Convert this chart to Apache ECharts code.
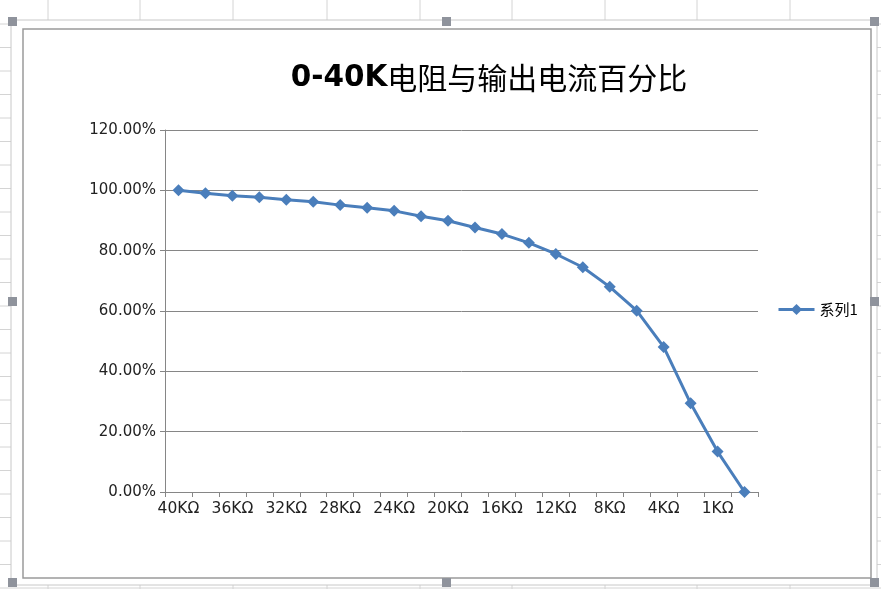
<!DOCTYPE html>
<html>
<head>
<meta charset="utf-8">
<script src="https://cdn.jsdelivr.net/npm/echarts@6/dist/echarts.min.js"></script>
<style>
html,body{margin:0;padding:0;background:#fff;}
#c{width:881px;height:589px;}
</style>
</head>
<body>
<div id="c"></div>
<script>
const titleText = '0-40K电阻与输出电流百分比';
const seriesName = '系列1';
const categories = ['40KΩ','38KΩ','36KΩ','34KΩ','32KΩ','30KΩ','28KΩ','26KΩ','24KΩ','22KΩ','20KΩ','18KΩ','16KΩ','14KΩ','12KΩ','10KΩ','8KΩ','6KΩ','4KΩ','2KΩ','1KΩ','0KΩ'];
const values = [100, 99.0, 98.2, 97.7, 96.9, 96.2, 95.1, 94.2, 93.2, 91.4, 89.9, 87.7, 85.5, 82.6, 78.9, 74.5, 68.0, 60.1, 48.1, 29.4, 13.4, 0];
const yTicks = {min: 0, max: 120, interval: 20};

const W = 881, H = 589;
const gridColor = '#d4d4d4';
const bg = [];
// spreadsheet cell gridlines (decoration)
const vx = [48, 140, 233, 327, 420, 512, 605, 697, 790];
vx.forEach(x => bg.push({type:'line', shape:{x1:x,y1:0,x2:x,y2:H}, style:{stroke:gridColor,lineWidth:1}, silent:true, z:-10}));
for (let y = 24; y < H; y += 23.5) {
  bg.push({type:'line', shape:{x1:0,y1:y,x2:W,y2:y}, style:{stroke:gridColor,lineWidth:1}, silent:true, z:-10});
}
// chart frame
bg.push({type:'rect', shape:{x:11,y:20,width:866,height:565}, style:{fill:'#fff',stroke:'#c8c8c8',lineWidth:1}, silent:true, z:-9});
bg.push({type:'rect', shape:{x:23,y:29,width:848,height:549}, style:{fill:'#fff',stroke:'#9a9a9a',lineWidth:1.5}, silent:true, z:-8});
// handles
[[8,17],[442,17],[870,17],[8,578],[442,578],[870,578],[8,297],[870,297]].forEach(p => {
  bg.push({type:'rect', shape:{x:p[0],y:p[1],width:9,height:9}, style:{fill:'#8f939c'}, silent:true, z:-7});
});

const chart = echarts.init(document.getElementById('c'), null, {renderer:'canvas'});
chart.setOption({
  animation: false,
  backgroundColor: '#fff',
  graphic: bg,
  title: {
    text: '{b|0-40K}{n|电阻与输出电流百分比}',
    left: 484, top: 58, textAlign: 'center',
    textStyle: {
      rich: {
        b: {fontFamily:'DejaVu Sans', fontWeight:'bold', fontSize:29.5, color:'#000'},
        n: {fontFamily:'Noto Sans CJK SC', fontWeight:'normal', fontSize:30, color:'#000'}
      }
    }
  },
  legend: {
    data: [seriesName],
    left: 772, top: 297, orient: 'vertical',
    itemWidth: 36, itemHeight: 14, itemGap: 6,
    lineStyle: {width: 3},
    textStyle: {fontFamily:'Noto Sans CJK SC', fontSize:15, color:'#000'}
  },
  grid: {left: 165, right: 123, top: 130, bottom: 97, containLabel: false},
  xAxis: {
    type: 'category',
    data: categories,
    boundaryGap: true,
    axisLine: {lineStyle: {color: '#868686', width: 1}},
    axisTick: {show: true, alignWithLabel: false, interval: 0, length: 5, lineStyle:{color:'#868686'}},
    axisLabel: {interval: 1, color: '#222', fontFamily: 'DejaVu Sans, sans-serif', fontSize: 15.5, margin: 9},
    splitLine: {show: false}
  },
  yAxis: {
    type: 'value',
    min: yTicks.min, max: yTicks.max, interval: yTicks.interval,
    axisLine: {show: true, lineStyle: {color: '#868686', width: 1}},
    axisTick: {show: true, length: 5, lineStyle:{color:'#868686'}},
    axisLabel: {formatter: v => v.toFixed(2) + '%', color: '#222', fontFamily: 'DejaVu Sans, sans-serif', fontSize: 15, margin: 9},
    splitLine: {show: true, lineStyle: {color: '#868686', width: 1}}
  },
  series: [{
    name: seriesName,
    type: 'line',
    data: values,
    symbol: 'diamond',
    symbolSize: 12,
    lineStyle: {color: '#4a7ebb', width: 3},
    itemStyle: {color: '#4a7ebb'}
  }]
});
</script>
</body>
</html>
